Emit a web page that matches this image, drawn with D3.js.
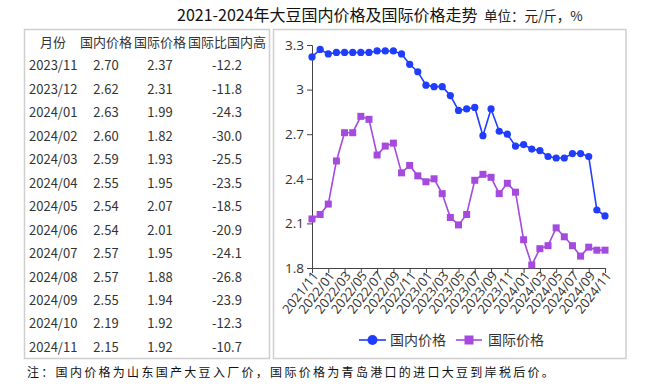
<!DOCTYPE html>
<html><head><meta charset="utf-8">
<script src="https://cdn.jsdelivr.net/npm/d3@7"></script>
<style>
html,body{margin:0;padding:0;background:#fff;}
svg{display:block;font-family:"Open Sans","Noto Sans CJK SC",sans-serif;}
</style></head>
<body>
<svg id="c" width="655" height="386"></svg>
<script>
const months = ["2021/11","2021/12","2022/01","2022/02","2022/03","2022/04","2022/05","2022/06","2022/07","2022/08","2022/09","2022/10","2022/11","2022/12","2023/01","2023/02","2023/03","2023/04","2023/05","2023/06","2023/07","2023/08","2023/09","2023/10","2023/11","2023/12","2024/01","2024/02","2024/03","2024/04","2024/05","2024/06","2024/07","2024/08","2024/09","2024/10","2024/11"];
const domestic = [3.22,3.27,3.24,3.25,3.25,3.25,3.25,3.25,3.26,3.26,3.26,3.24,3.17,3.12,3.03,3.02,3.02,2.96,2.86,2.87,2.88,2.69,2.87,2.72,2.70,2.62,2.63,2.60,2.59,2.55,2.54,2.54,2.57,2.57,2.55,2.19,2.15];
const international = [2.13,2.16,2.23,2.52,2.71,2.71,2.82,2.80,2.56,2.62,2.64,2.44,2.49,2.42,2.38,2.40,2.30,2.14,2.09,2.16,2.39,2.43,2.41,2.30,2.37,2.31,1.99,1.82,1.93,1.95,2.07,2.01,1.95,1.88,1.94,1.92,1.92];
const yTicks = [1.8,2.1,2.4,2.7,3,3.3];
const tableHeader = ["月份","国内价格","国际价格","国际比国内高"];
const tableMonths = ["2023/11","2023/12","2024/01","2024/02","2024/03","2024/04","2024/05","2024/06","2024/07","2024/08","2024/09","2024/10","2024/11"];
const tableDomestic = ["2.70","2.62","2.63","2.60","2.59","2.55","2.54","2.54","2.57","2.57","2.55","2.19","2.15"];
const tableIntl = ["2.37","2.31","1.99","1.82","1.93","1.95","2.07","2.01","1.95","1.88","1.94","1.92","1.92"];
const tableDiff = ["-12.2","-11.8","-24.3","-30.0","-25.5","-23.5","-18.5","-20.9","-24.1","-26.8","-23.9","-12.3","-10.7"];
const titleText = "2021-2024年大豆国内价格及国际价格走势";
const unitText = "单位：元/斤，%";
const noteText = "注：国内价格为山东国产大豆入厂价，国际价格为青岛港口的进口大豆到岸税后价。";
const seriesNames = ["国内价格","国际价格"];

const BLUE = "#1f3dff", PURPLE = "#a54ade", TXT = "#333";
const svg = d3.select("#c");

// title
svg.append("text").attr("x",177).attr("y",21).attr("font-size",16).attr("fill","#111")
  .attr("font-family","'Noto Sans CJK SC',sans-serif").text(titleText);
svg.append("text").attr("x",484).attr("y",21).attr("font-size",13.5).attr("fill","#222")
  .attr("font-family","'Noto Sans CJK SC',sans-serif").text(unitText);

// boxes
svg.append("rect").attr("x",24.5).attr("y",29.5).attr("width",245).attr("height",329)
  .attr("fill","none").attr("stroke","#cfcfcf").attr("stroke-width",1.5);
svg.append("rect").attr("x",273.5).attr("y",29.5).attr("width",352.5).attr("height",329)
  .attr("fill","none").attr("stroke","#cfcfcf").attr("stroke-width",1.5);

// table
const colX = [53,106,160,227];
const rowY = i => 47 + i*23.45;
const tg = svg.append("g").attr("font-size",13).attr("fill",TXT).attr("font-family","'Noto Sans CJK SC',sans-serif");
tableHeader.forEach((h,j)=>{
  tg.append("text").attr("x",colX[j]).attr("y",rowY(0)).attr("text-anchor","middle").text(h);
});
tableMonths.forEach((m,i)=>{
  const y = rowY(i+1);
  tg.append("text").attr("x",29).attr("y",y).text(m);
  tg.append("text").attr("x",colX[1]).attr("y",y).attr("text-anchor","middle").text(tableDomestic[i]);
  tg.append("text").attr("x",colX[2]).attr("y",y).attr("text-anchor","middle").text(tableIntl[i]);
  tg.append("text").attr("x",colX[3]).attr("y",y).attr("text-anchor","middle").text(tableDiff[i]);
});

// chart
const x = d3.scaleLinear().domain([0, months.length-1]).range([312, 605]);
const y = d3.scaleLinear().domain([1.8, 3.3]).range([268, 45]);

const yAxis = svg.append("g").attr("transform","translate(312,0)")
  .call(d3.axisLeft(y).tickValues(yTicks).tickSize(5).tickFormat(d=>String(d)));
yAxis.select(".domain").attr("stroke","#444");
yAxis.selectAll(".tick line").attr("stroke","#444");
yAxis.selectAll("text").attr("font-size",13.5).attr("fill",TXT).attr("font-family","'Open Sans',sans-serif");

const xTickIdx = d3.range(0, months.length, 2);
const xAxis = svg.append("g").attr("transform","translate(0,268)")
  .call(d3.axisBottom(x).tickValues(xTickIdx).tickSize(5).tickFormat(i=>months[i]));
xAxis.select(".domain").attr("stroke","#444");
xAxis.selectAll(".tick line").attr("stroke","#444");
xAxis.selectAll("text").attr("font-size",13).attr("fill",TXT).attr("font-family","'Open Sans',sans-serif")
  .attr("text-anchor","end").attr("dy","0.35em").attr("transform","translate(3,5) rotate(-52)").attr("x",0).attr("y",0);

function drawSeries(vals, color, shape){
  const line = d3.line().x((d,i)=>x(i)).y(d=>y(d));
  svg.append("path").datum(vals).attr("d",line).attr("fill","none").attr("stroke",color).attr("stroke-width",1.6);
  const g = svg.append("g").attr("fill",color);
  if(shape==="circle"){
    g.selectAll("circle").data(vals).join("circle").attr("cx",(d,i)=>x(i)).attr("cy",d=>y(d)).attr("r",3.6);
  } else {
    g.selectAll("rect").data(vals).join("rect").attr("x",(d,i)=>x(i)-3.5).attr("y",d=>y(d)-3.5).attr("width",7).attr("height",7);
  }
}
drawSeries(international, PURPLE, "square");
drawSeries(domestic, BLUE, "circle");

// legend
const lg = svg.append("g").attr("font-size",14).attr("fill",TXT).attr("font-family","'Noto Sans CJK SC',sans-serif");
lg.append("line").attr("x1",359).attr("x2",386).attr("y1",340).attr("y2",340).attr("stroke",BLUE).attr("stroke-width",1.6);
lg.append("circle").attr("cx",372.5).attr("cy",340).attr("r",5).attr("fill",BLUE);
lg.append("text").attr("x",390).attr("y",345).text(seriesNames[0]);
lg.append("line").attr("x1",456).attr("x2",482).attr("y1",340).attr("y2",340).attr("stroke",PURPLE).attr("stroke-width",1.6);
lg.append("rect").attr("x",464.5).attr("y",335.5).attr("width",9).attr("height",9).attr("fill",PURPLE);
lg.append("text").attr("x",488).attr("y",345).text(seriesNames[1]);

// note
svg.append("text").attr("x",27).attr("y",377).attr("font-size",12).attr("fill","#111")
  .attr("letter-spacing","2.3px").attr("font-family","'Noto Sans CJK SC',sans-serif").text(noteText);
</script>
</body></html>
